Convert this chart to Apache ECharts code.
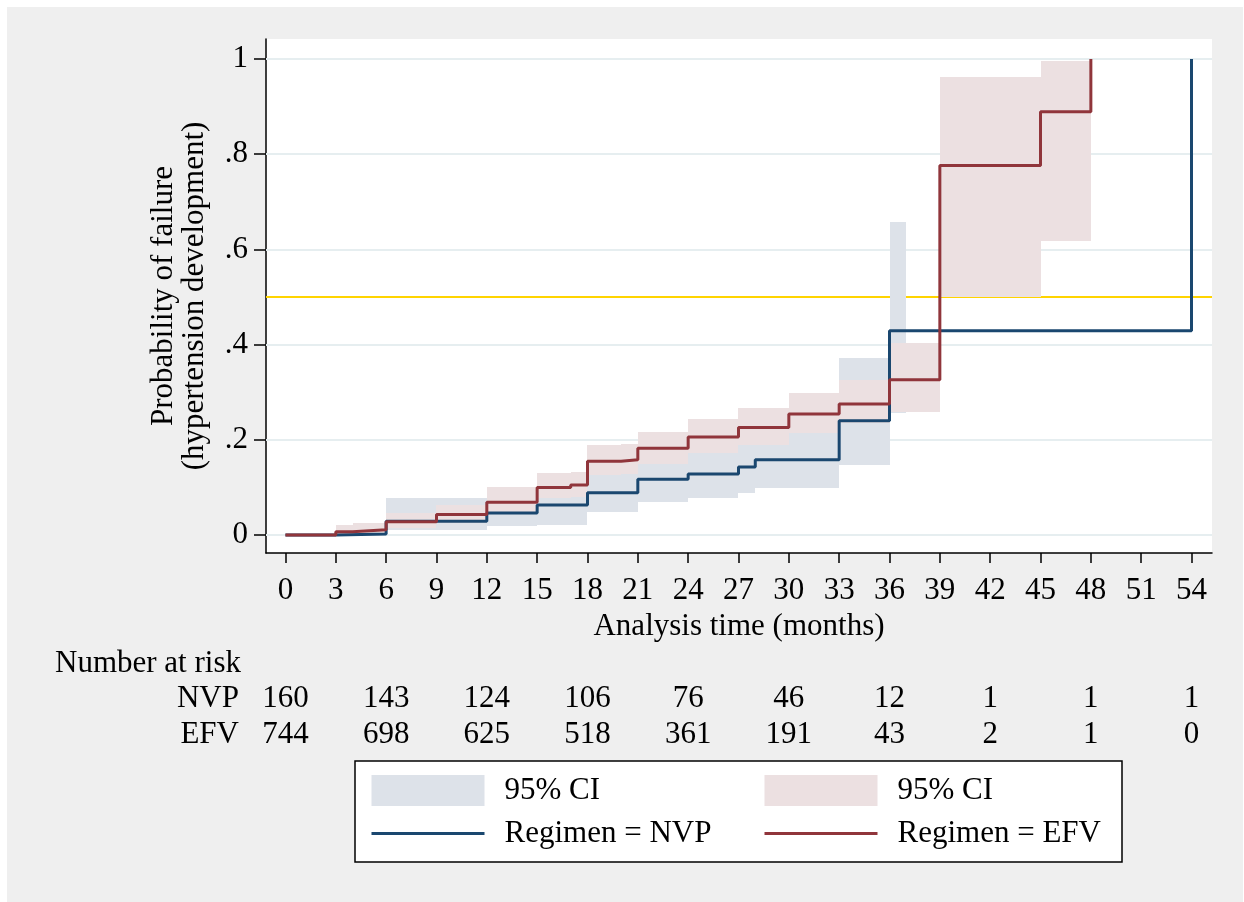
<!DOCTYPE html>
<html>
<head>
<meta charset="utf-8">
<title>Probability of failure (hypertension development)</title>
<script src="https://cdn.jsdelivr.net/npm/echarts@6/dist/echarts.min.js"></script>
<style>
html, body { margin: 0; padding: 0; background: #fff; }
#frame { position: absolute; left: 7px; top: 7px; width: 1236px; height: 895px; background: #efefef; }
#main { position: absolute; left: 0; top: 0; width: 1244px; height: 902px; }
</style>
</head>
<body>
<div id="frame"></div>
<div id="main"></div>
<script>
// failure curves (months, cumulative probability of failure)
var nvpTime = [0, 3, 6, 12, 15, 18, 21, 24, 27, 28, 33, 36, 54];
var nvpFail = [0, 0.002, 0.029, 0.046, 0.063, 0.089, 0.117, 0.128, 0.143, 0.158, 0.240, 0.429, 1];
var efvTime = [0, 3, 4, 6, 9, 12, 15, 17, 18, 20, 21, 24, 27, 30, 33, 36, 39, 45, 48];
var efvFail = [0, 0.007, 0.011, 0.028, 0.043, 0.069, 0.100, 0.105, 0.155, 0.158, 0.182, 0.206, 0.226, 0.254, 0.275, 0.326, 0.776, 0.889, 1];

// 95% CI pieces: from, to, lower, upper
var nvpCiFrom = [3, 6, 12, 15, 18, 21, 24, 27, 28, 33, 36];
var nvpCiTo   = [6, 12, 15, 18, 21, 24, 27, 28, 33, 36, 37];
var nvpCiLow  = [0.0003, 0.011, 0.018, 0.022, 0.049, 0.069, 0.077, 0.088, 0.098, 0.147, 0.256];
var nvpCiHigh = [0.015, 0.077, 0.090, 0.120, 0.150, 0.180, 0.190, 0.210, 0.220, 0.371, 0.657];

var efvCiFrom = [3, 4, 6, 9, 12, 15, 17, 18, 20, 21, 24, 27, 30, 33, 36, 39, 45];
var efvCiTo   = [4, 6, 9, 12, 15, 17, 18, 20, 21, 24, 27, 30, 33, 36, 39, 45, 48];
var efvCiLow  = [0.002, 0.004, 0.014, 0.025, 0.045, 0.078, 0.080, 0.126, 0.128, 0.150, 0.172, 0.189, 0.215, 0.235, 0.259, 0.499, 0.618];
var efvCiHigh = [0.021, 0.025, 0.046, 0.063, 0.100, 0.130, 0.132, 0.189, 0.191, 0.216, 0.244, 0.266, 0.299, 0.326, 0.403, 0.963, 0.996];

var xTicks = [0, 3, 6, 9, 12, 15, 18, 21, 24, 27, 30, 33, 36, 39, 42, 45, 48, 51, 54];
var yTicks = [0, 0.2, 0.4, 0.6, 0.8, 1];
var yTickLabels = ['0', '.2', '.4', '.6', '.8', '1'];
var refLine = 0.5;

// number at risk
var riskTimes = [0, 6, 12, 18, 24, 30, 36, 42, 48, 54];
var nvpRisk = [160, 143, 124, 106, 76, 46, 12, 1, 1, 1];
var efvRisk = [744, 698, 625, 518, 361, 191, 43, 2, 1, 0];

var FONT = '"Liberation Serif", "Times New Roman", serif';
var FS = 31;
var NAVY = '#1a476f', MAROON = '#90353b';
var NAVY_CI = '#dde2e9', MAROON_CI = '#ece0e1';

function zip(a, b) {
    var out = [];
    for (var i = 0; i < a.length; i++) out.push([a[i], b[i]]);
    return out;
}
function ciData(from, to, lo, hi) {
    var out = [];
    for (var i = 0; i < from.length; i++) out.push([from[i], to[i], lo[i], hi[i]]);
    return out;
}
function ciRect(color) {
    return function (params, api) {
        var p0 = api.coord([api.value(0), api.value(3)]);
        var p1 = api.coord([api.value(1), api.value(2)]);
        var x0 = Math.round(p0[0]), x1 = Math.round(p1[0]);
        var y0 = Math.round(p0[1]), y1 = Math.round(p1[1]);
        return {
            type: 'rect',
            shape: { x: x0, y: y0, width: x1 - x0, height: y1 - y0 },
            style: { fill: color }
        };
    };
}
function pick(values, keys) {
    return function (v) {
        for (var i = 0; i < keys.length; i++) {
            if (Math.abs(keys[i] - v) < 1e-6) return String(values[i]);
        }
        return '';
    };
}

var xCommon = { type: 'value', min: -1.16, max: 55.22, splitLine: { show: false } };
var legendText = { fontSize: FS, color: '#000', fontFamily: FONT, padding: [0, 0, 0, 15] };
function legendName(n) { return n.indexOf('95% CI') >= 0 ? '95% CI' : n; }

var chart = echarts.init(document.getElementById('main'), null, { renderer: 'canvas' });
chart.setOption({
    animation: false,
    textStyle: { fontFamily: FONT },
    grid: {
        left: 266, right: 32, top: 39, bottom: 349,
        show: true, backgroundColor: '#fff', borderWidth: 0,
        outerBoundsMode: 'none'
    },
    xAxis: [
        Object.assign({}, xCommon, {
            position: 'bottom',
            name: 'Analysis time (months)',
            nameLocation: 'middle',
            nameGap: 54,
            nameTextStyle: { fontSize: FS, color: '#000', fontFamily: FONT },
            axisLine: { onZero: false, lineStyle: { color: '#000', width: 1.5 } },
            axisTick: { customValues: xTicks, length: 10, lineStyle: { color: '#000', width: 1.5 } },
            axisLabel: { customValues: xTicks, margin: 22, fontSize: FS, color: '#000', fontFamily: FONT }
        }),
        Object.assign({}, xCommon, {
            position: 'bottom', offset: 130,
            axisLine: { show: false }, axisTick: { show: false },
            axisLabel: { customValues: riskTimes, formatter: pick(nvpRisk, riskTimes), margin: 0,
                fontSize: FS, color: '#000', fontFamily: FONT }
        }),
        Object.assign({}, xCommon, {
            position: 'bottom', offset: 166,
            axisLine: { show: false }, axisTick: { show: false },
            axisLabel: { customValues: riskTimes, formatter: pick(efvRisk, riskTimes), margin: 0,
                fontSize: FS, color: '#000', fontFamily: FONT }
        })
    ],
    yAxis: {
        type: 'value', min: -0.0378, max: 1.042,
        name: 'Probability of failure\n(hypertension development)',
        nameLocation: 'middle', nameRotate: 90, nameGap: 56,
        nameTextStyle: { fontSize: FS, lineHeight: 31, color: '#000', fontFamily: FONT },
        axisLine: { show: true, onZero: false, lineStyle: { color: '#000', width: 1.5 } },
        axisTick: { show: true, customValues: yTicks, length: 12, lineStyle: { color: '#000', width: 1.5 } },
        axisLabel: { customValues: yTicks, formatter: pick(yTickLabels, yTicks), margin: 18,
            fontSize: FS, color: '#000', fontFamily: FONT },
        splitLine: { show: false }
    },
    legend: [
        {
            left: 370, top: 775, padding: 0, orient: 'vertical', selectedMode: false, z: 10,
            itemWidth: 113, itemHeight: 31, itemGap: 12,
            lineStyle: { width: 3 },
            data: [{ name: 'NVP 95% CI', icon: 'rect' },
                   { name: 'Regimen = NVP', itemStyle: { opacity: 0 } }],
            formatter: legendName,
            textStyle: legendText
        },
        {
            left: 763, top: 775, padding: 0, orient: 'vertical', selectedMode: false, z: 10,
            itemWidth: 113, itemHeight: 31, itemGap: 12,
            lineStyle: { width: 3 },
            data: [{ name: 'EFV 95% CI', icon: 'rect' },
                   { name: 'Regimen = EFV', itemStyle: { opacity: 0 } }],
            formatter: legendName,
            textStyle: legendText
        }
    ],
    graphic: [
        { type: 'rect', z: 0, shape: { x: 355, y: 761, width: 767, height: 101 },
          style: { fill: '#fff', stroke: '#000', lineWidth: 1.5 } },
        { type: 'text', x: 55, y: 664, style: { text: 'Number at risk', fontSize: FS, fontFamily: FONT,
          fill: '#000', align: 'left', verticalAlign: 'middle' } },
        { type: 'text', x: 239, y: 699, style: { text: 'NVP', fontSize: FS, fontFamily: FONT,
          fill: '#000', align: 'right', verticalAlign: 'middle' } },
        { type: 'text', x: 239, y: 735, style: { text: 'EFV', fontSize: FS, fontFamily: FONT,
          fill: '#000', align: 'right', verticalAlign: 'middle' } }
    ],
    series: [
        {
            name: 'grid', type: 'line', data: [], z: 1, silent: true,
            markLine: {
                z: 1, silent: true, symbol: 'none', label: { show: false }, animation: false,
                data: yTicks.map(function (v) {
                    return { yAxis: v, lineStyle: { color: '#e6eef0', width: 2, type: 'solid' } };
                }).concat([{ yAxis: refLine, lineStyle: { color: '#ffd400', width: 2, type: 'solid' } }])
            }
        },
        {
            name: 'NVP 95% CI', type: 'custom', z: 2, silent: true,
            itemStyle: { color: NAVY_CI },
            renderItem: ciRect(NAVY_CI),
            encode: { x: [0, 1], y: [2, 3] },
            data: ciData(nvpCiFrom, nvpCiTo, nvpCiLow, nvpCiHigh)
        },
        {
            name: 'EFV 95% CI', type: 'custom', z: 3, silent: true,
            itemStyle: { color: MAROON_CI },
            renderItem: ciRect(MAROON_CI),
            encode: { x: [0, 1], y: [2, 3] },
            data: ciData(efvCiFrom, efvCiTo, efvCiLow, efvCiHigh)
        },
        {
            name: 'Regimen = NVP', type: 'line', step: 'end', z: 4, symbol: 'none', silent: true,
            itemStyle: { color: NAVY },
            lineStyle: { color: NAVY, width: 3 },
            data: zip(nvpTime, nvpFail)
        },
        {
            name: 'Regimen = EFV', type: 'line', step: 'end', z: 5, symbol: 'none', silent: true,
            itemStyle: { color: MAROON },
            lineStyle: { color: MAROON, width: 3 },
            data: zip(efvTime, efvFail)
        }
    ]
});
</script>
</body>
</html>
